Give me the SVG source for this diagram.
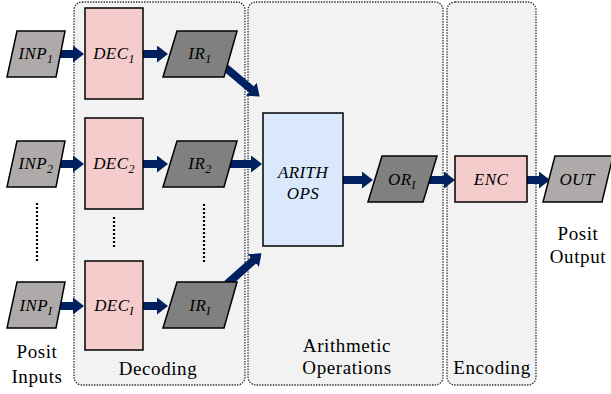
<svg xmlns="http://www.w3.org/2000/svg" width="611" height="394" viewBox="0 0 611 394">
<style>
.panel{fill:#f2f2f2;stroke:#333;stroke-width:1.3;stroke-dasharray:1.5 1.2}
.inp{fill:#aeaaaa;stroke:#000;stroke-width:1.5}
.ir{fill:#808080;stroke:#000;stroke-width:1.5}
.dec{fill:#f4cccc;stroke:#000;stroke-width:1.5}
.ops{fill:#dae8fc;stroke:#000;stroke-width:1.5}
.arr{stroke:#002060;stroke-width:8;fill:none;marker-end:url(#ah)}
.dots{stroke:#000;stroke-width:2.2;stroke-dasharray:2 2;fill:none}
.n{font-family:"Liberation Serif",serif;font-style:italic;font-size:17px;fill:#000;text-anchor:middle;letter-spacing:0.4px}
.s{font-size:12px}
.lbl{font-family:"Liberation Serif",serif;font-size:19px;fill:#000;text-anchor:middle;letter-spacing:0.6px}
</style>
<defs>
<marker id="ah" markerUnits="userSpaceOnUse" markerWidth="11" markerHeight="17" viewBox="0 0 11 17" refX="1" refY="8.5" orient="auto">
<path d="M0,0 L11,8.5 L0,17 z" fill="#002060"/>
</marker>
</defs>
<g id="panels">
<rect class="panel" x="74" y="2" width="171" height="383" rx="8"/>
<rect class="panel" x="248" y="2" width="195" height="383" rx="8"/>
<rect class="panel" x="447" y="2" width="89" height="383" rx="8"/>
</g>
<g id="connectors">
<line class="arr" x1="57" y1="54" x2="74" y2="54"/>
<line class="arr" x1="57" y1="164" x2="74" y2="164"/>
<line class="arr" x1="57" y1="306" x2="74" y2="306"/>
<line class="arr" x1="143" y1="54" x2="158" y2="54"/>
<line class="arr" x1="143" y1="164" x2="158" y2="164"/>
<line class="arr" x1="143" y1="306" x2="158" y2="306"/>
<line class="arr" x1="226" y1="68" x2="252" y2="90"/>
<line class="arr" x1="229" y1="164" x2="252" y2="164"/>
<line class="arr" x1="227" y1="284" x2="254" y2="260"/>
<line class="arr" x1="343" y1="180" x2="363" y2="180"/>
<line class="arr" x1="428" y1="180" x2="445" y2="180"/>
<line class="arr" x1="527" y1="180" x2="540" y2="180"/>
<line class="dots" x1="37" y1="203" x2="37" y2="261"/>
<line class="dots" x1="114" y1="217" x2="114" y2="249"/>
<line class="dots" x1="204" y1="204" x2="204" y2="262"/>
</g>
<g id="inp1"><polygon class="inp" points="17,31 65,31 56,77 7,77"/><text class="n" x="36" y="59">INP<tspan class="s" dy="4">1</tspan></text></g>
<g id="inp2"><polygon class="inp" points="17,141 65,141 56,187 7,187"/><text class="n" x="36" y="169">INP<tspan class="s" dy="4">2</tspan></text></g>
<g id="inpI"><polygon class="inp" points="17,282 65,282 56,328 7,328"/><text class="n" x="36" y="311">INP<tspan class="s" dy="4">I</tspan></text></g>
<g id="dec1"><rect class="dec" x="85" y="8" width="58" height="91"/><text class="n" x="114" y="59">DEC<tspan class="s" dy="4">1</tspan></text></g>
<g id="dec2"><rect class="dec" x="85" y="118" width="58" height="91"/><text class="n" x="114" y="169">DEC<tspan class="s" dy="4">2</tspan></text></g>
<g id="decI"><rect class="dec" x="85" y="261" width="58" height="89"/><text class="n" x="114" y="311">DEC<tspan class="s" dy="4">I</tspan></text></g>
<g id="ir1"><polygon class="ir" points="177,31 237,31 224,77 163,77"/><text class="n" x="200" y="59">IR<tspan class="s" dy="4">1</tspan></text></g>
<g id="ir2"><polygon class="ir" points="177,141 237,141 224,187 163,187"/><text class="n" x="200" y="169">IR<tspan class="s" dy="4">2</tspan></text></g>
<g id="irI"><polygon class="ir" points="177,282 237,282 224,328 163,328"/><text class="n" x="200" y="311">IR<tspan class="s" dy="4">I</tspan></text></g>
<g id="arith"><rect class="ops" x="263" y="113" width="80" height="133"/><text class="n" x="303" y="178" letter-spacing="1">ARITH</text><text class="n" x="303" y="199" letter-spacing="1">OPS</text></g>
<g id="orI"><polygon class="ir" points="382,156 437,156 423,202 368,202"/><text class="n" x="402" y="185">OR<tspan class="s" dy="4">I</tspan></text></g>
<g id="enc"><rect class="dec" x="455" y="156" width="72" height="46"/><text class="n" x="491" y="185">ENC</text></g>
<g id="out"><polygon class="inp" points="555,156 613,156 602,202 543,202"/><text class="n" x="577" y="185">OUT</text></g>
<g id="labels">
<text class="lbl" x="37" y="358">Posit</text>
<text class="lbl" x="37" y="383">Inputs</text>
<text class="lbl" x="158" y="375">Decoding</text>
<text class="lbl" x="347" y="352">Arithmetic</text>
<text class="lbl" x="347" y="374">Operations</text>
<text class="lbl" x="492" y="374">Encoding</text>
<text class="lbl" x="578" y="240">Posit</text>
<text class="lbl" x="578" y="263">Output</text>
</g>
</svg>
